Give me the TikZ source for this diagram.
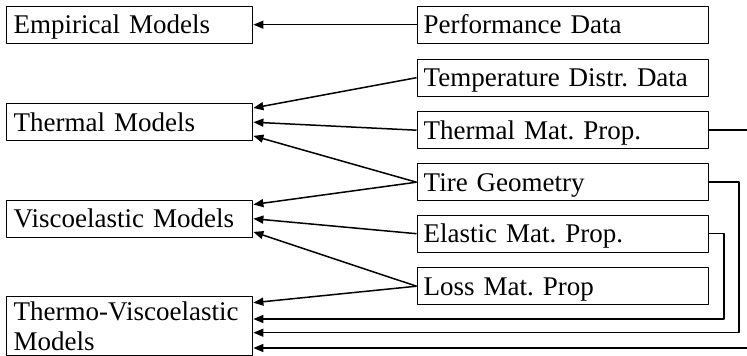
\documentclass[tikz,border=0pt]{standalone}
\usepackage{fontspec}
\setmainfont{Liberation Serif}
\usetikzlibrary{arrows.meta}
\frenchspacing

\begin{document}
\begin{tikzpicture}[x=1pt,y=-1pt,line join=round,
    box/.style={draw,line width=1.4pt,anchor=north west,align=left,inner ysep=0pt,
      font=\fontsize{27}{30}\selectfont},
    model/.style={box,text width=232pt,inner xsep=7pt,minimum height=37pt},
    data/.style={box,text width=278pt,inner xsep=6.5pt,minimum height=37pt},
    oneline/.style={text height=18.5pt,text depth=0pt},
    conn/.style={line width=1.5pt,-{Triangle[length=10pt,width=8pt]}}]
    \useasboundingbox (0,0) rectangle (747,356);
    % models
    \node[model,oneline] (emp) at (6,5.5) {Empirical Models};
    \node[model,oneline] (thermal) at (6,103) {Thermal Models};
    \node[model,oneline] (visco) at (6,199.5) {Viscoelastic Models};
    \node[model,minimum height=59pt] (thermo) at (6,296) {\mbox{Thermo-Viscoelastic}\\Models};
    % data
    \node[data,oneline] (perf) at (416.5,5.5) {Performance Data};
    \node[data,oneline] (temp) at (416.5,58.5) {Temperature Distr. Data};
    \node[data,oneline] (tmat) at (416.5,111) {Thermal Mat. Prop.};
    \node[data,oneline] (tire) at (416.5,163) {Tire Geometry};
    \node[data,oneline] (elastic) at (416.5,214.5) {Elastic Mat. Prop.};
    \node[data,oneline] (loss) at (416.5,267) {Loss Mat. Prop};
    % connectors
    \draw[conn] (perf.west) -- (emp.east);
    \draw[conn] (temp.west) -- ([yshift=-5pt]thermal.north east);
    \draw[conn] (tmat.west) -- (thermal.east);
    \draw[conn] (tire.west) -- ([yshift=5.5pt]thermal.south east);
    \draw[conn] (tire.west) -- ([yshift=-5pt]visco.north east);
    \draw[conn] (elastic.west) -- (visco.east);
    \draw[conn] (loss.west) -- ([yshift=6pt]visco.south east);
    \draw[conn] (loss.west) -- ([yshift=-6.7pt]thermo.north east);
    \draw[conn] (elastic.east) -- ++(15,0) |- ([yshift=-23pt]thermo.north east);
    \draw[conn] (tire.east) -- ++(30,0) |- ([yshift=-36.7pt]thermo.north east);
    \draw[conn] (tmat.east) -- ++(42,0) |- ([yshift=-52pt]thermo.north east);
\end{tikzpicture}
\end{document}
